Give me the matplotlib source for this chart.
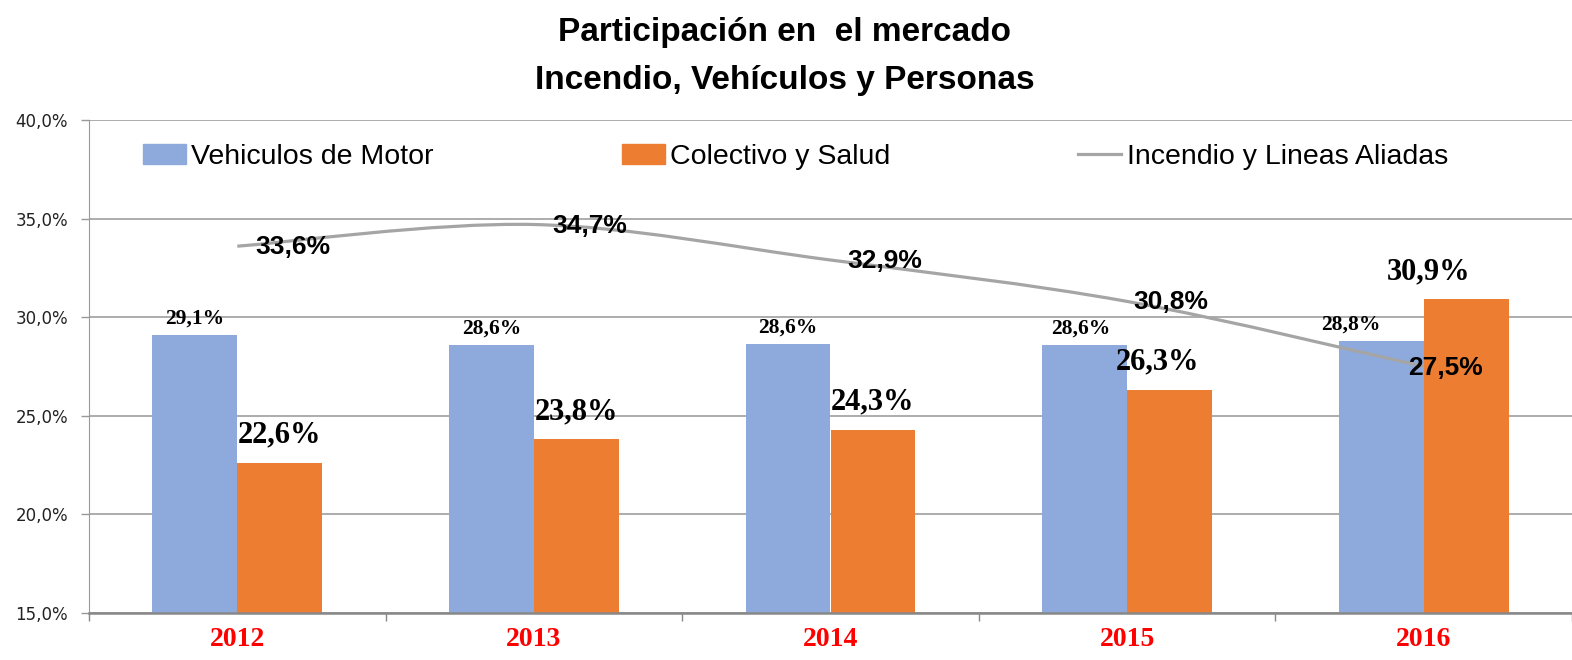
"""Market share chart: two bar series plus a smoothed line"""
import matplotlib
matplotlib.use("Agg")
import matplotlib.pyplot as plt
import numpy as np
from matplotlib.path import Path
from matplotlib.patches import PathPatch, Patch
from matplotlib.lines import Line2D
from matplotlib.ticker import FixedLocator

years = ["2012", "2013", "2014", "2015", "2016"]
vehiculos = [29.1, 28.6, 28.65, 28.6, 28.8]
colectivo = [22.6, 23.8, 24.3, 26.3, 30.9]
incendio = [33.6, 34.7, 32.9, 30.8, 27.5]
vehiculos_labels = ["29,1%", "28,6%", "28,6%", "28,6%", "28,8%"]
colectivo_labels = ["22,6%", "23,8%", "24,3%", "26,3%", "30,9%"]
incendio_labels = ["33,6%", "34,7%", "32,9%", "30,8%", "27,5%"]
yticks = [15, 20, 25, 30, 35, 40]
ytick_labels = ["15,0%", "20,0%", "25,0%", "30,0%", "35,0%", "40,0%"]

BLUE = "#8EA9DB"
ORANGE = "#ED7D31"
GRAY = "#A5A5A5"

# label nudges in pixels (style only)
line_dx = [18, 18, 17, 6, -16]
blue_dx = [0, 0, 0, -4, -30]
orange_dx = [0, 0, 0, -12, -38]


def smooth_path(xs, ys, k=1 / 6):
    """Catmull-Rom style cubic bezier through the points"""
    pts = np.column_stack([xs, ys]).astype(float)
    verts = [pts[0]]
    codes = [Path.MOVETO]
    n = len(pts)
    for i in range(n - 1):
        p0 = pts[i - 1] if i > 0 else pts[i]
        p1, p2 = pts[i], pts[i + 1]
        p3 = pts[i + 2] if i + 2 < n else pts[i + 1]
        verts += [p1 + (p2 - p0) * k, p2 - (p3 - p1) * k, p2]
        codes += [Path.CURVE4] * 3
    return Path(verts, codes)


fig = plt.figure(figsize=(15.72, 6.6), dpi=100)
ax = fig.add_axes([89 / 1572, 1 - 613 / 660, 1 - 89 / 1572, (613 - 120) / 660])

x = np.arange(len(years))
w = 85 / 297
ax.bar(x - w / 2, vehiculos, w, color=BLUE, zorder=2)
ax.bar(x + w / 2, colectivo, w, color=ORANGE, zorder=2)
ax.add_patch(PathPatch(smooth_path(x, incendio), fill=False, edgecolor=GRAY,
                       lw=2.3, zorder=3, capstyle="butt"))

ax.set_xlim(-0.5, len(years) - 0.5)
ax.set_ylim(15, 40)
ax.set_yticks(yticks)
ax.set_yticklabels(ytick_labels, fontsize=12, color="#222222", family="DejaVu Sans")
ax.yaxis.grid(True, color="#A6A6A6", lw=1.3, zorder=0)
ax.set_axisbelow(True)
ax.tick_params(axis="y", length=6, width=1, color="#999999", pad=9)

ax.set_xticks(x)
ax.set_xticklabels(years, fontsize=20, color="red", fontweight="bold", family="Liberation Serif")
ax.xaxis.set_minor_locator(FixedLocator(np.arange(-0.5, len(years), 1.0)))
ax.tick_params(axis="x", which="major", length=0, pad=10)
ax.tick_params(axis="x", which="minor", length=6, width=1, color="#888888")

for side in ["top", "right"]:
    ax.spines[side].set_visible(False)
ax.spines["left"].set_color("#999999")
ax.spines["bottom"].set_color("#888888")
ax.spines["bottom"].set_linewidth(1.8)

for i in range(len(years)):
    ax.annotate(vehiculos_labels[i], (x[i] - w / 2, vehiculos[i]), xytext=(blue_dx[i], 16),
                textcoords="offset pixels", ha="center", va="center", fontsize=15.5,
                fontweight="bold", family="Liberation Serif", zorder=5)
    ax.annotate(colectivo_labels[i], (x[i] + w / 2, colectivo[i]), xytext=(orange_dx[i], 28),
                textcoords="offset pixels", ha="center", va="center", fontsize=22,
                fontweight="bold", family="Liberation Serif", zorder=5)
    ax.annotate(incendio_labels[i], (x[i], incendio[i]), xytext=(line_dx[i], -1),
                textcoords="offset pixels", ha="left", va="center", fontsize=19,
                fontweight="bold", family="Liberation Sans", zorder=5)

handles = [Patch(color=BLUE), Patch(color=ORANGE), Line2D([], [], color=GRAY, lw=2.3)]
names = ["Vehiculos de Motor", "Colectivo y Salud", "Incendio y Lineas Aliadas"]
fig.legend(handles, names, loc="center left", bbox_to_anchor=(143 / 1572, 1 - 157 / 660),
           ncol=3, frameon=False, borderpad=0, borderaxespad=0, handlelength=1.5,
           handletextpad=0.2, columnspacing=6.6,
           prop={"family": "Liberation Sans", "size": 20.5})

fig.text(785 / 1572, 1 - 33 / 660, "Participación en  el mercado", ha="center", va="center",
         fontsize=24, fontweight="bold", family="Liberation Sans")
fig.text(785 / 1572, 1 - 80 / 660, "Incendio, Vehículos y Personas", ha="center", va="center",
         fontsize=24, fontweight="bold", family="Liberation Sans")

fig.savefig("out.png", dpi=100)
